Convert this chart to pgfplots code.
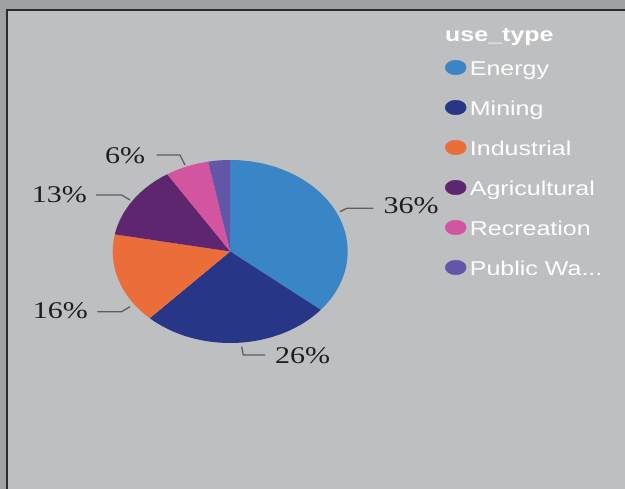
\documentclass[border=0pt]{standalone}
\usepackage{pgfplots}
\pgfplotsset{compat=1.18}
\usepackage{graphicx}
\usepackage{fontspec}
\setmainfont{Liberation Serif}
\newfontfamily\legendfont{Liberation Sans}

\definecolor{bgouter}{HTML}{A0A1A2}
\definecolor{bgframe}{HTML}{2B2B2B}
\definecolor{bginner}{HTML}{BEBFC1}
\definecolor{cEnergy}{HTML}{3A85C6}
\definecolor{cMining}{HTML}{283688}
\definecolor{cIndustrial}{HTML}{EB6D39}
\definecolor{cAgri}{HTML}{5D266F}
\definecolor{cRec}{HTML}{D3549F}
\definecolor{cPublic}{HTML}{6356A8}
\definecolor{leader}{HTML}{5E5E5E}
\definecolor{labeltext}{HTML}{1E1E1E}

\tikzset{
  lbl/.style={inner sep=0pt, text=labeltext, font=\fontsize{24}{28}\selectfont},
  ldr/.style={leader, line width=1.3pt},
}

% the screenshot is stretched sideways, text too
\newcommand{\sx}[1]{\scalebox{1.25}[1]{#1}}
\newcommand{\legdot}[1]{\addlegendimage{legend image code/.code={\fill[#1] (10.5pt,3pt) ellipse[x radius=10.5pt, y radius=7.3pt];}}}

% use_type shares in percent, clockwise from 12 o'clock
\def\piedata{36/cEnergy,26/cMining,16/cIndustrial,13/cAgri,6/cRec,3/cPublic}

\begin{document}
\begin{tikzpicture}
% wedges are built with their angles expanded, so the axis can draw them later
\gdef\piecmds{}
\xdef\angA{90}
\foreach \v/\c in \piedata {
  \pgfmathsetmacro\angB{\angA-3.6*\v}
  \xdef\piecmds{\unexpanded\expandafter{\piecmds}%
    \noexpand\fill[\c] (axis cs:230.2,237.5) -- ++(\angA:117.5pt and 91.5pt)
      arc[start angle=\angA, end angle=\angB, x radius=117.5pt, y radius=91.5pt] -- cycle;}
  \xdef\angA{\angB}
}
\begin{axis}[
    hide axis, scale only axis,
    width=625pt, height=489pt,
    xmin=0, xmax=625, ymin=0, ymax=489,
    clip=false,
    legend cell align=left,
    legend style={
      at={(axis cs:445,429)}, anchor=north west,
      draw=none, fill=none, inner sep=0pt, outer sep=0pt,
      text=white, font=\legendfont\fontsize{20}{24}\selectfont,
      row sep=20pt,
      nodes={inner sep=0pt, text height=15pt, text depth=4pt},
      /tikz/every odd column/.append style={column sep=3.5pt},
    },
  ]
  \fill[bgouter] (axis cs:0,0) rectangle (axis cs:625,489);
  \fill[bgframe] (axis cs:6,0) rectangle (axis cs:625,480);
  \fill[bginner] (axis cs:8,0) rectangle (axis cs:625,478);

  \piecmds

  % data labels with leader lines
  \draw[ldr] (axis cs:340,277.3) -- (axis cs:346.7,280.7) -- (axis cs:373.3,280.7);
  \node[lbl, anchor=west] at (axis cs:383.3,283) {\sx{36\%}};
  \draw[ldr] (axis cs:241.7,142.3) -- (axis cs:243.3,134) -- (axis cs:265,134);
  \node[lbl, anchor=west] at (axis cs:275,133.3) {\sx{26\%}};
  \draw[ldr] (axis cs:130,182.3) -- (axis cs:121.7,177.3) -- (axis cs:97.3,177.3);
  \node[lbl, anchor=west] at (axis cs:32.7,178) {\sx{16\%}};
  \draw[ldr] (axis cs:130,289) -- (axis cs:121.7,294) -- (axis cs:96,294);
  \node[lbl, anchor=west] at (axis cs:31.7,294.7) {\sx{13\%}};
  \draw[ldr] (axis cs:185,324) -- (axis cs:180,334) -- (axis cs:156.7,334);
  \node[lbl, anchor=west] at (axis cs:105,333) {\sx{6\%}};

  % legend title
  \node[anchor=base west, inner sep=0pt, text=white,
        font=\legendfont\bfseries\fontsize{20}{24}\selectfont]
        at (axis cs:445,447.3) {\sx{use\_type}};

  \legdot{cEnergy}\addlegendentry{\sx{Energy}}
  \legdot{cMining}\addlegendentry{\sx{Mining}}
  \legdot{cIndustrial}\addlegendentry{\sx{Industrial}}
  \legdot{cAgri}\addlegendentry{\sx{Agricultural}}
  \legdot{cRec}\addlegendentry{\sx{Recreation}}
  \legdot{cPublic}\addlegendentry{\sx{Public Wa...}}
\end{axis}
\end{tikzpicture}
\end{document}
